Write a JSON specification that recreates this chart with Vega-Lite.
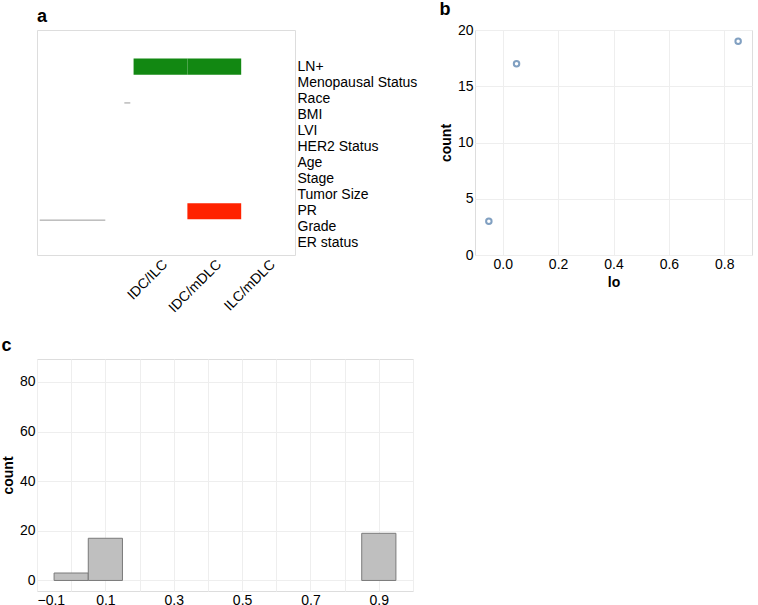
{
  "$schema": "https://vega.github.io/schema/vega-lite/v6.json",
  "padding": 0,
  "background": "white",
  "config": {
    "font": "Liberation Sans",
    "title": {"fontSize": 18, "fontWeight": "bold", "anchor": "start", "color": "black"},
    "axis": {"ticks": false, "domain": false, "labelFontSize": 14, "titleFontSize": 14, "titleFontWeight": "bold", "titleColor": "black", "gridColor": "#eeeeee"}
  },
  "datasets": {
    "heat": [
      {"feature": "LN+", "comparison": "IDC/ILC", "value": 1.01, "sig": false},
      {"feature": "LN+", "comparison": "IDC/mDLC", "value": 1.01, "sig": false},
      {"feature": "PR", "comparison": "IDC/mDLC", "value": 4.1, "sig": true}
    ],
    "dendro": [
      {"h1": 0, "h2": 0.066, "p1": 0.5, "p2": 0.5},
      {"h1": 0.276, "h2": 1.0, "p1": 9.875, "p2": 9.875}
    ],
    "hist": [
      {"lo": -0.05, "hi": 0.05, "count": 3},
      {"lo": 0.05, "hi": 0.15, "count": 17},
      {"lo": 0.85, "hi": 0.95, "count": 19}
    ]
  },
  "vconcat": [
    {
      "hconcat": [
        {
          "width": 258,
          "height": 225,
          "title": {"text": "a", "frame": "group"},
          "resolve": {"scale": {"x": "independent", "y": "independent"}},
          "layer": [
            {
              "data": {"name": "dendro"},
              "mark": {"type": "rule", "color": "#9a9a9a", "strokeWidth": 1},
              "encoding": {
                "x": {"field": "h1", "type": "quantitative", "scale": {"domain": [-1.818, 1.03], "reverse": true, "nice": false, "zero": false}, "axis": null},
                "x2": {"field": "h2"},
                "y": {"field": "p1", "type": "quantitative", "scale": {"domain": [-5.336, 12.664], "reverse": true, "nice": false, "zero": false}, "axis": null},
                "y2": {"field": "p2"}
              }
            },
            {
              "data": {"name": "heat"},
              "encoding": {
                "x": {"field": "comparison", "type": "nominal",
                  "scale": {"domain": ["IDC/ILC", "IDC/mDLC", "ILC/mDLC"], "paddingInner": 0, "paddingOuter": 0.8975, "align": 1},
                  "axis": {"orient": "bottom", "title": null, "labelAngle": -45}},
                "y": {"field": "feature", "type": "nominal",
                  "scale": {"domain": ["LN+", "Menopausal Status", "Race", "BMI", "LVI", "HER2 Status", "Age", "Stage", "Tumor Size", "PR", "Grade", "ER status"], "paddingInner": 0, "paddingOuter": 3, "align": 0.889},
                  "axis": {"orient": "right", "title": null}}
              },
              "layer": [
                {
                  "mark": {"type": "rect"},
                  "encoding": {
                    "color": {"field": "value", "type": "quantitative",
                      "scale": {"domain": [0.15, 2, 4.1], "range": ["#22ff22", "#000000", "#ff2200"], "interpolate": "rgb"}}
                  }
                }
              ]
            }
          ]
        },
        {
          "width": 277,
          "height": 225,
          "title": {"text": "b", "frame": "bounds"},
          "data": {"name": "hist"},
          "mark": "point",
          "encoding": {
            "x": {"field": "lo", "type": "quantitative"},
            "y": {"field": "count", "type": "quantitative"}
          }
        }
      ]
    },
    {
      "width": 376,
      "height": 232,
      "title": {"text": "c", "frame": "bounds"},
      "data": {"name": "hist"},
      "mark": {"type": "rect", "fill": "#bfbfbf", "stroke": "#7a7a7a", "strokeWidth": 1},
      "encoding": {
        "x": {"field": "lo", "type": "quantitative", "scale": {"domain": [-0.1, 1.0], "nice": false, "zero": false}},
        "x2": {"field": "hi"},
        "y": {"field": "count", "type": "quantitative", "scale": {"domain": [-4.25, 89.25], "nice": false, "zero": false}},
        "y2": {"datum": 0}
      }
    }
  ]
}
